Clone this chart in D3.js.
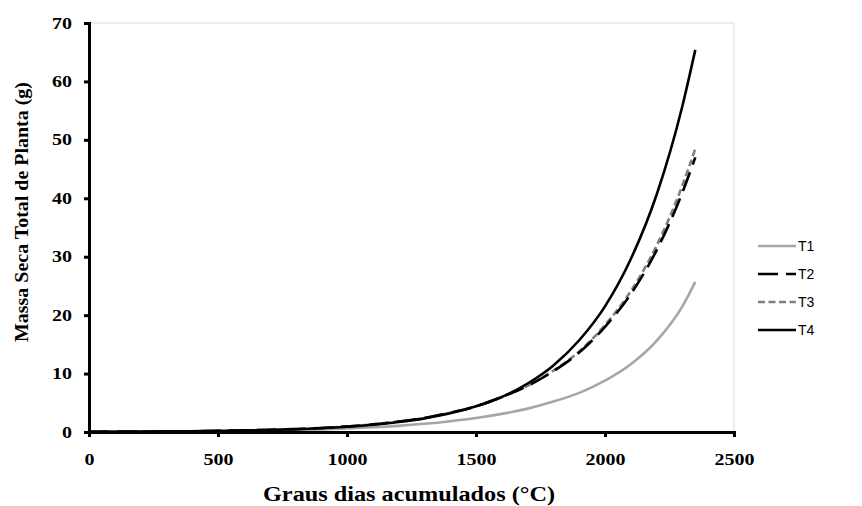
<!DOCTYPE html>
<html>
<head>
<meta charset="utf-8">
<script src="https://cdn.jsdelivr.net/npm/d3@7"></script>
<style>
  body { margin: 0; background: #fff; }
  .tick text { font-family: "Liberation Serif", "Times New Roman", serif; font-weight: bold; font-size: 16px; fill: #000; }
  .axis-title { font-family: "Liberation Serif", "Times New Roman", serif; font-weight: bold; }
  .legend text { font-family: "Liberation Sans", Arial, sans-serif; font-size: 14px; fill: #000; }
</style>
</head>
<body>
<div id="chart"></div>
<script>
// graus dias acumulados (°C)
var gda = [0, 100, 200, 300, 400, 500, 600, 700, 800, 900, 1000, 1100, 1200,
           1300, 1400, 1500, 1600, 1700, 1800, 1900, 2000, 2100, 2200, 2300, 2350];

// massa seca total de planta (g)
var t1 = [0.04, 0.05, 0.06, 0.08, 0.11, 0.15, 0.2, 0.26, 0.34, 0.45, 0.6, 0.8, 1.05,
          1.4, 1.85, 2.4, 3.1, 4.0, 5.2, 6.7, 8.8, 11.6, 15.6, 21.5, 25.7];
var t2 = [0.05, 0.06, 0.08, 0.1, 0.14, 0.2, 0.27, 0.37, 0.5, 0.68, 0.95, 1.3, 1.8,
          2.4, 3.3, 4.4, 6.0, 7.9, 10.4, 13.6, 18.0, 23.6, 31.1, 41.0, 47.0];
var t3 = [0.05, 0.06, 0.08, 0.1, 0.14, 0.2, 0.27, 0.37, 0.5, 0.68, 0.95, 1.3, 1.8,
          2.4, 3.3, 4.4, 6.0, 7.9, 10.5, 13.8, 18.3, 24.1, 31.9, 42.2, 48.5];
var t4 = [0.04, 0.05, 0.07, 0.1, 0.13, 0.18, 0.25, 0.35, 0.48, 0.65, 0.9, 1.23, 1.7,
          2.33, 3.2, 4.4, 6.0, 8.3, 11.4, 15.7, 21.5, 29.6, 40.6, 55.8, 65.4];

var seriesNames = ["T1", "T2", "T3", "T4"];
var xTicks = [0, 500, 1000, 1500, 2000, 2500];
var yTicks = [0, 10, 20, 30, 40, 50, 60, 70];

var series = [
  {name: seriesNames[0], values: t1, color: "#a6a6a6", dash: null},
  {name: seriesNames[1], values: t2, color: "#000000", dash: "20,8"},
  {name: seriesNames[2], values: t3, color: "#808080", dash: "7,3.5"},
  {name: seriesNames[3], values: t4, color: "#000000", dash: null}
];

var W = 862, H = 506;
var margin = {top: 23, right: 128, bottom: 74, left: 89},
    width = W - margin.left - margin.right,
    height = H - margin.top - margin.bottom;

var svg = d3.select("#chart").append("svg")
    .attr("width", W)
    .attr("height", H);

var g = svg.append("g")
    .attr("transform", "translate(" + margin.left + "," + margin.top + ")");

var x = d3.scaleLinear().domain([0, 2500]).range([0, width]);
var y = d3.scaleLinear().domain([0, 70]).range([height, 0]);

// plot area border
g.append("rect")
    .attr("x", 0).attr("y", 0)
    .attr("width", width).attr("height", height)
    .attr("fill", "none")
    .attr("stroke", "#d9d9d9")
    .attr("stroke-width", 1);

var line = d3.line()
    .x(function(d) { return x(d[0]); })
    .y(function(d) { return y(d[1]); })
    .curve(d3.curveMonotoneX);

// T1 first, then dashed ones, T4 on top
[series[0], series[2], series[1], series[3]].forEach(function(s) {
  g.append("path")
      .datum(gda.map(function(v, i) { return [v, s.values[i]]; }))
      .attr("fill", "none")
      .attr("stroke", s.color)
      .attr("stroke-width", 2.6)
      .attr("stroke-dasharray", s.dash)
      .attr("d", line);
});

// axes
var xAxis = g.append("g")
    .attr("transform", "translate(0," + height + ")")
    .call(d3.axisBottom(x).tickValues(xTicks).tickFormat(d3.format("d")).tickSize(5).tickPadding(17));
var yAxis = g.append("g")
    .call(d3.axisLeft(y).tickValues(yTicks).tickFormat(d3.format("d")).tickSize(5).tickPadding(12));

[xAxis, yAxis].forEach(function(a) {
  a.select(".domain").attr("stroke", "#000").attr("stroke-width", 3);
  a.selectAll(".tick line").attr("stroke", "#000").attr("stroke-width", 3);
  // the source font is drawn wide: ~10px per digit
  a.selectAll(".tick text")
      .attr("textLength", function(d) { return String(d).length * 10; })
      .attr("lengthAdjust", "spacingAndGlyphs");
});

// axis titles
svg.append("text")
    .attr("class", "axis-title")
    .attr("x", 263)
    .attr("y", 501)
    .attr("textLength", 292)
    .attr("lengthAdjust", "spacingAndGlyphs")
    .style("font-size", "20px")
    .text("Graus dias acumulados (°C)");

svg.append("text")
    .attr("class", "axis-title")
    .attr("transform", "translate(28,212) rotate(-90)")
    .attr("text-anchor", "middle")
    .attr("textLength", 260)
    .attr("lengthAdjust", "spacingAndGlyphs")
    .style("font-size", "19px")
    .text("Massa Seca Total de Planta (g)");

// legend
var legend = svg.append("g")
    .attr("class", "legend")
    .attr("transform", "translate(758,246)");

var items = legend.selectAll("g")
    .data(series)
    .enter().append("g")
    .attr("transform", function(d, i) { return "translate(0," + i * 28 + ")"; });

items.append("line")
    .attr("x1", 0).attr("x2", 38)
    .attr("y1", 0).attr("y2", 0)
    .attr("stroke", function(d) { return d.color; })
    .attr("stroke-width", 2.6)
    .attr("stroke-dasharray", function(d) { return d.dash; });

items.append("text")
    .attr("x", 40)
    .attr("y", 5)
    .text(function(d) { return d.name; });
</script>
</body>
</html>
